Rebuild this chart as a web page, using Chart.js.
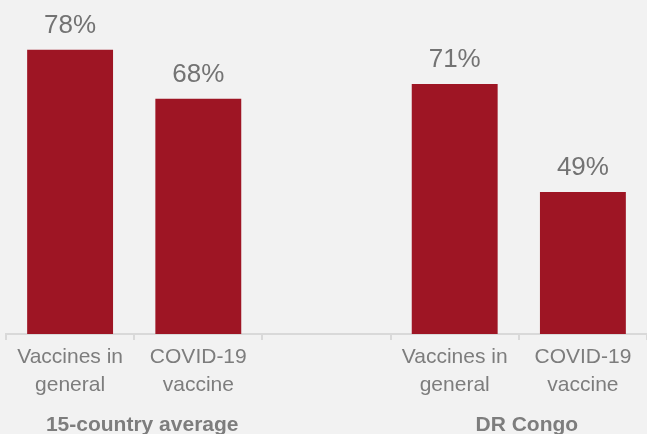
<!DOCTYPE html>
<html>
<head>
<meta charset="utf-8">
<script src="https://cdn.jsdelivr.net/npm/chart.js@4"></script>
<style>
  html, body { margin: 0; padding: 0; background: #f2f2f2; }
  #wrap { width: 647px; height: 434px; }
</style>
</head>
<body>
<div id="wrap"><canvas id="grafico" width="647" height="434"></canvas></div>
<script>
// categorías (la del medio vacía para separar los grupos)
const categorias = [
  ['Vaccines in', 'general'],
  ['COVID-19', 'vaccine'],
  '',
  ['Vaccines in', 'general'],
  ['COVID-19', 'vaccine']
];
const valores = [78, 68, null, 71, 49];
const grupos = ['15-country average', 'DR Congo'];
const indicesGrupo = [[0, 1], [3, 4]];

const rojo = '#9e1524';
const gris = '#737373';
const grisTicks = '#7d7d7d';
const fuente = "'Liberation Sans', Arial, sans-serif";

// etiquetas de porcentaje sobre las barras y nombres de grupo abajo
const etiquetasPlugin = {
  id: 'etiquetas',
  afterDatasetsDraw(chart) {
    const ctx = chart.ctx;
    const meta = chart.getDatasetMeta(0);
    ctx.save();
    ctx.fillStyle = gris;
    ctx.textAlign = 'center';
    ctx.textBaseline = 'alphabetic';
    ctx.font = '26px ' + fuente;
    meta.data.forEach((barra, i) => {
      if (valores[i] == null) return;
      ctx.fillText(valores[i] + '%', barra.x, barra.y - 17);
    });

    const x = chart.scales.x;
    ctx.fillStyle = grisTicks;
    ctx.font = 'bold 21px ' + fuente;
    grupos.forEach((g, k) => {
      const [a, b] = indicesGrupo[k];
      const centro = (x.getPixelForValue(a) + x.getPixelForValue(b)) / 2 + 8;
      ctx.fillText(g, centro, 431);
    });
    ctx.restore();
  }
};

const ctx = document.getElementById('grafico').getContext('2d');
const grafico = new Chart(ctx, {
  type: 'bar',
  data: {
    labels: categorias,
    datasets: [{
      data: valores,
      backgroundColor: rojo,
      categoryPercentage: 1,
      barPercentage: 0.67
    }]
  },
  options: {
    responsive: false,
    animation: false,
    layout: { padding: { top: 40, left: 6, right: 0, bottom: 0 } },
    plugins: {
      legend: { display: false },
      tooltip: { enabled: false }
    },
    scales: {
      x: {
        afterFit(scale) { scale.height = 100; },
        border: { display: true, color: '#d9d9d9', width: 2 },
        grid: {
          offset: true,
          drawOnChartArea: false,
          drawTicks: true,
          tickLength: 6,
          color: '#d9d9d9',
          lineWidth: 2
        },
        ticks: {
          color: grisTicks,
          padding: 4,
          maxRotation: 0,
          autoSkip: false,
          font: { family: fuente, size: 21, lineHeight: 1.3 }
        }
      },
      y: {
        display: false,
        min: 20,
        max: 80
      }
    }
  },
  plugins: [etiquetasPlugin]
});
</script>
</body>
</html>
